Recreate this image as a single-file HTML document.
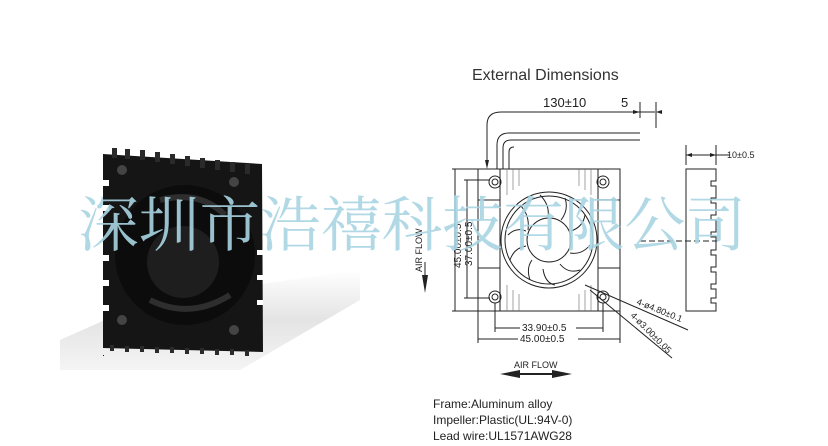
<!DOCTYPE html>
<html><head><meta charset="utf-8"><style>
html,body{margin:0;padding:0;background:#fff;width:828px;height:446px;overflow:hidden}
svg{display:block}
text{font-family:"Liberation Sans",sans-serif}
</style></head><body>
<svg width="828" height="446" viewBox="0 0 828 446" xmlns="http://www.w3.org/2000/svg">
<defs>
<linearGradient id="sh" x1="0" y1="0" x2="0" y2="1">
<stop offset="0" stop-color="#fff"/><stop offset="0.5" stop-color="#e4e4e4"/><stop offset="1" stop-color="#f4f4f4"/>
</linearGradient>
</defs>
<polygon points="60,340 150,300 360,270 360,300 240,370 60,370" fill="url(#sh)"/>
<g>
<polygon points="103,154 262,164 263,352 103,348" fill="#151515"/>
<g fill="#2a2a2a">
<rect x="112" y="148" width="5" height="10"/><rect x="125" y="149" width="5" height="10"/><rect x="140" y="150" width="5" height="10"/><rect x="155" y="152" width="5" height="10"/><rect x="170" y="154" width="5" height="10"/><rect x="185" y="156" width="5" height="10"/><rect x="200" y="158" width="5" height="10"/><rect x="215" y="160" width="5" height="10"/><rect x="230" y="162" width="5" height="10"/><rect x="245" y="164" width="5" height="10"/>
</g>
<g fill="#fff">
<rect x="103" y="180" width="6" height="6"/><rect x="103" y="205" width="6" height="6"/><rect x="103" y="255" width="6" height="6"/><rect x="103" y="280" width="6" height="6"/><rect x="103" y="305" width="6" height="6"/>
<rect x="257" y="250" width="6" height="5"/><rect x="257" y="275" width="6" height="5"/><rect x="257" y="300" width="6" height="5"/>
</g>
<g fill="#181818">
<rect x="103" y="355" width="1" height="1"/>
</g>
<g fill="#2a2a2a">
<rect x="110" y="345" width="4" height="6"/><rect x="125" y="346" width="4" height="6"/><rect x="140" y="346" width="4" height="6"/><rect x="155" y="347" width="4" height="6"/><rect x="170" y="347" width="4" height="6"/><rect x="185" y="348" width="4" height="6"/><rect x="200" y="348" width="4" height="6"/><rect x="215" y="349" width="4" height="6"/><rect x="230" y="349" width="4" height="6"/><rect x="245" y="350" width="4" height="6"/>
</g>
<circle cx="185" cy="255" r="70" fill="#0c0c0c"/>
<circle cx="183" cy="262" r="36" fill="#1e1e1e"/>
<path d="M160,200 Q200,190 225,215" stroke="#2e2e2e" stroke-width="6" fill="none"/>
<path d="M150,300 Q190,320 230,295" stroke="#2e2e2e" stroke-width="6" fill="none"/>
<g fill="#444"><circle cx="122" cy="170" r="5"/><circle cx="234" cy="182" r="5"/><circle cx="122" cy="320" r="5"/><circle cx="234" cy="330" r="5"/></g>
</g>
<text x="472" y="80" font-size="16" fill="#333">External Dimensions</text>
<g stroke="#222" stroke-width="1" fill="none">
<rect x="478" y="169" width="142" height="142"/>
<line x1="500" y1="169" x2="500" y2="311"/><line x1="598" y1="169" x2="598" y2="311"/>
<line x1="478" y1="200" x2="500" y2="200"/><line x1="478" y1="268" x2="500" y2="268"/>
<line x1="598" y1="200" x2="620" y2="200"/><line x1="598" y1="268" x2="620" y2="268"/>
<g stroke="#666" stroke-width="0.6">
<line x1="507" y1="169" x2="507" y2="195"/><line x1="513" y1="169" x2="513" y2="190"/><line x1="519" y1="169" x2="519" y2="186"/><line x1="579" y1="169" x2="579" y2="186"/><line x1="585" y1="169" x2="585" y2="190"/><line x1="591" y1="169" x2="591" y2="195"/>
<line x1="507" y1="285" x2="507" y2="311"/><line x1="513" y1="290" x2="513" y2="311"/><line x1="519" y1="294" x2="519" y2="311"/><line x1="579" y1="294" x2="579" y2="311"/><line x1="585" y1="290" x2="585" y2="311"/><line x1="591" y1="285" x2="591" y2="311"/>
</g>
<circle cx="549" cy="240" r="48"/>
<circle cx="549" cy="240" r="44"/>
<circle cx="549" cy="240" r="22"/>
<path d="M520,205 q10,10 8,25 M540,195 q10,10 8,22 M565,198 q4,12 -4,22 M585,215 q-2,12 -14,16 M590,245 q-8,10 -20,8 M580,270 q-12,4 -20,-6 M555,285 q-10,-2 -12,-16 M530,280 q-4,-12 2,-20 M510,260 q4,-12 16,-14 M508,235 q8,-8 18,-4"/>
<circle cx="495" cy="182" r="6"/><circle cx="495" cy="182" r="3"/>
<circle cx="603" cy="182" r="6"/><circle cx="603" cy="182" r="3"/>
<circle cx="495" cy="297" r="6"/><circle cx="495" cy="297" r="3"/>
<circle cx="603" cy="297" r="6"/><circle cx="603" cy="297" r="3"/>
<path d="M497,169 V145 q0,-12 12,-12 H640"/>
<path d="M503,169 V148 q0,-8 8,-8 H640"/>
<path d="M509,169 V152 q0,-5 5,-5"/>
<path d="M487,166 V125 q0,-13 14,-13 H640"/>
<line x1="640" y1="102" x2="640" y2="118"/><line x1="638" y1="112" x2="655" y2="112"/>
<line x1="656" y1="102" x2="656" y2="128"/>
<line x1="455" y1="169" x2="455" y2="311"/><line x1="452" y1="169" x2="478" y2="169"/><line x1="452" y1="311" x2="478" y2="311"/>
<line x1="467" y1="180" x2="467" y2="298"/><line x1="464" y1="180" x2="490" y2="180"/><line x1="464" y1="298" x2="490" y2="298"/>
<line x1="495" y1="303" x2="495" y2="332"/><line x1="603" y1="303" x2="603" y2="332"/>
<line x1="495" y1="328" x2="520" y2="328"/><line x1="576" y1="328" x2="603" y2="328"/>
<line x1="478" y1="311" x2="478" y2="343"/><line x1="620" y1="311" x2="620" y2="343"/>
<line x1="478" y1="339" x2="518" y2="339"/><line x1="578" y1="339" x2="620" y2="339"/>
<line x1="585" y1="285" x2="688" y2="330"/><line x1="590" y1="290" x2="672" y2="358"/>
<path d="M686,169 H716 V181 H711 V186 H716 V198 H711 V203 H716 V215 H711 V220 H716 V232 H711 V237 H716 V250 H711 V255 H716 V267 H711 V272 H716 V284 H711 V289 H716 V298 H711 V303 H716 V311 H686 Z"/>
<line x1="686" y1="145" x2="686" y2="165"/><line x1="716" y1="145" x2="716" y2="165"/>
<line x1="686" y1="155" x2="730" y2="155"/>
<line x1="640" y1="241" x2="720" y2="241" stroke-dasharray="6,3"/>
</g>
<g fill="#222">
<polygon points="487,169 485,160 489,160"/>
<polygon points="640,112 633,110 633,114"/><polygon points="656,112 662,110 662,114"/>
<polygon points="686,155 692,153 692,157"/><polygon points="716,155 710,153 710,157"/>
<polygon points="425,293 422,275 428,275"/>
<polygon points="500,374 520,370 520,378"/><polygon points="572,374 552,370 552,378"/>
<rect x="520" y="373" width="32" height="2"/>
</g>
<line x1="425" y1="262" x2="425" y2="278" stroke="#222"/>
<g fill="#222" font-size="10">
<text x="543" y="107" font-size="13">130±10</text>
<text x="621" y="107" font-size="13">5</text>
<text x="727" y="158" font-size="9">10±0.5</text>
<text x="522" y="331">33.90±0.5</text>
<text x="520" y="342">45.00±0.5</text>
<text x="514" y="368" font-size="9">AIR FLOW</text>
<text transform="translate(422,272) rotate(-90)" font-size="9">AIR FLOW</text>
<text transform="translate(461,268) rotate(-90)">45.00±0.5</text>
<text transform="translate(472,266) rotate(-90)">37.00±0.5</text>
<text transform="translate(636,304) rotate(22)" font-size="9">4-ø4.80±0.1</text>
<text transform="translate(630,316) rotate(45)" font-size="9">4-ø3.00±0.05</text>
</g>
<g fill="#222" font-size="12">
<text x="433" y="408">Frame:Aluminum alloy</text>
<text x="433" y="424">Impeller:Plastic(UL:94V-0)</text>
<text x="433" y="440">Lead wire:UL1571AWG28</text>
</g>
<text x="78" y="246" font-size="60" fill="#a8d4e2" fill-opacity="0.9" style="font-family:'Noto Serif CJK SC',serif" textLength="668" lengthAdjust="spacingAndGlyphs">深圳市浩禧科技有限公司</text>
</svg>
</body></html>
